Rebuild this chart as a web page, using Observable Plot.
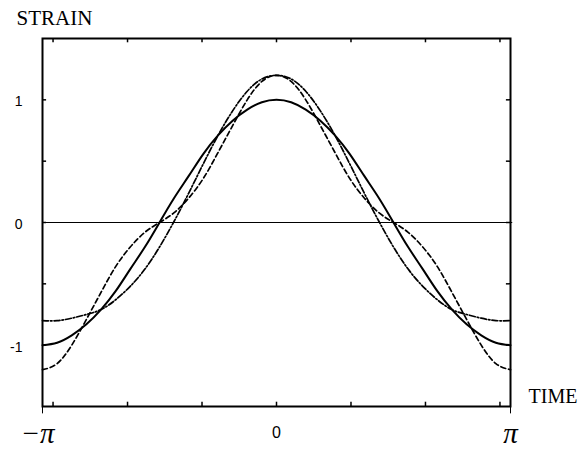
<!DOCTYPE html>
<html><head><meta charset="utf-8">
<script src="https://cdn.jsdelivr.net/npm/d3@7"></script>
<script src="https://cdn.jsdelivr.net/npm/@observablehq/plot@0.6"></script>
<style>html,body{margin:0;padding:0;background:#fff}</style>
</head><body><div id="chart"></div>
<script>
// time samples (radians), read across the chart
const time = [-3.1416,-2.9452,-2.7489,-2.5525,-2.3562,-2.1598,-1.9635,-1.7671,-1.5708,-1.3744,-1.1781,-0.9817,-0.7854,-0.5890,-0.3927,-0.1963,0,
  0.1963,0.3927,0.5890,0.7854,0.9817,1.1781,1.3744,1.5708,1.7671,1.9635,2.1598,2.3562,2.5525,2.7489,2.9452,3.1416];
// solid curve
const solid = [-1.00,-0.98,-0.92,-0.83,-0.71,-0.56,-0.38,-0.20,0.00,0.20,0.38,0.56,0.71,0.83,0.92,0.98,1.00,
  0.98,0.92,0.83,0.71,0.56,0.38,0.20,0.00,-0.20,-0.38,-0.56,-0.71,-0.83,-0.92,-0.98,-1.00];
// dashed curve
const dashed = [-1.20,-1.15,-1.00,-0.79,-0.57,-0.36,-0.20,-0.08,0.00,0.08,0.20,0.36,0.57,0.79,1.00,1.15,1.20,
  1.15,1.00,0.79,0.57,0.36,0.20,0.08,0.00,-0.08,-0.20,-0.36,-0.57,-0.79,-1.00,-1.15,-1.20];
// dash-dot curve
const dashdot = [-0.80,-0.80,-0.78,-0.75,-0.71,-0.63,-0.52,-0.38,-0.20,0.01,0.24,0.48,0.71,0.91,1.07,1.17,1.20,
  1.17,1.07,0.91,0.71,0.48,0.24,0.01,-0.20,-0.38,-0.52,-0.63,-0.71,-0.75,-0.78,-0.80,-0.80];

const xTicks = [-3,-2,-1,0,1,2,3];
const yTicks = [-1,-0.5,0,0.5,1];
const yLabels = [-1,0,1];
const piTicks = [-Math.PI, Math.PI];
const piLabels = ["\u2212\u03c0", "\u03c0"];
const zeroLabel = ["0"];

const rows = arr => time.map((t,i) => ({t, v: arr[i]}));
const X0 = -Math.PI, X1 = Math.PI, Y0 = -1.5, Y1 = 1.5;
const tlx = 0.055, tly = 0.035;
const serif = "'Liberation Serif','Times New Roman',serif";
const sans = "'Liberation Sans',Arial,sans-serif";
const piStyle = {frameAnchor: "bottom", dy: 36, fontSize: 29, fontStyle: "italic", fontFamily: serif, fill: "black"};

const chart = Plot.plot({
  width: 580, height: 449,
  marginLeft: 42, marginRight: 70, marginTop: 38, marginBottom: 43,
  x: {domain: [X0, X1], axis: null},
  y: {domain: [Y0, Y1], axis: null},
  style: {background: "white", color: "black", overflow: "visible"},
  marks: [
    Plot.ruleY([0], {x1: X0, x2: X1 + 0.03, stroke: "black", strokeWidth: 1}),
    Plot.line(rows(dashed), {x: "t", y: "v", curve: "natural", stroke: "black", strokeWidth: 1.7, strokeDasharray: "5,3"}),
    Plot.line(rows(dashdot), {x: "t", y: "v", curve: "natural", stroke: "black", strokeWidth: 1.7, strokeDasharray: "6,2,1.5,2"}),
    Plot.line(rows(solid), {x: "t", y: "v", curve: "natural", stroke: "black", strokeWidth: 2}),
    Plot.frame({stroke: "black", strokeWidth: 2}),
    Plot.ruleX(xTicks, {x: d => d, y1: Y0, y2: Y0 + tly, stroke: "black", strokeWidth: 1.5}),
    Plot.ruleX(xTicks, {x: d => d, y1: Y1, y2: Y1 - tly, stroke: "black", strokeWidth: 1.5}),
    Plot.ruleX(piTicks, {x: d => d, y1: Y0, y2: Y0 - 0.06, stroke: "black", strokeWidth: 1}),
    Plot.ruleY(yTicks, {y: d => d, x1: X0, x2: X0 + tlx, stroke: "black", strokeWidth: 1.5}),
    Plot.ruleY(yTicks, {y: d => d, x1: X1, x2: X1 - tlx, stroke: "black", strokeWidth: 1.5}),
    Plot.text(yLabels, {x: X0, y: d => d, text: d => String(d), dx: -20, dy: 2, textAnchor: "end", fontSize: 14, fontFamily: sans, fill: "black"}),
    Plot.text([piTicks[0]], {x: d => d, text: () => piLabels[0], dx: -5, ...piStyle}),
    Plot.text([piTicks[1]], {x: d => d, text: () => piLabels[1], ...piStyle}),
    Plot.text(zeroLabel, {x: 0, frameAnchor: "bottom", text: d => d, dy: 31, fontSize: 16, fontFamily: sans, fill: "black"}),
    Plot.text(["STRAIN"], {frameAnchor: "top-left", text: d => d, textAnchor: "start", dx: -26, dy: -28, fontSize: 21, fontFamily: serif, fill: "black"}),
    Plot.text(["TIME"], {frameAnchor: "bottom-right", text: d => d, textAnchor: "start", dx: 18, dy: -4, fontSize: 20, fontFamily: serif, fill: "black"})
  ]
});
document.getElementById("chart").appendChild(chart);
</script>
</body></html>
